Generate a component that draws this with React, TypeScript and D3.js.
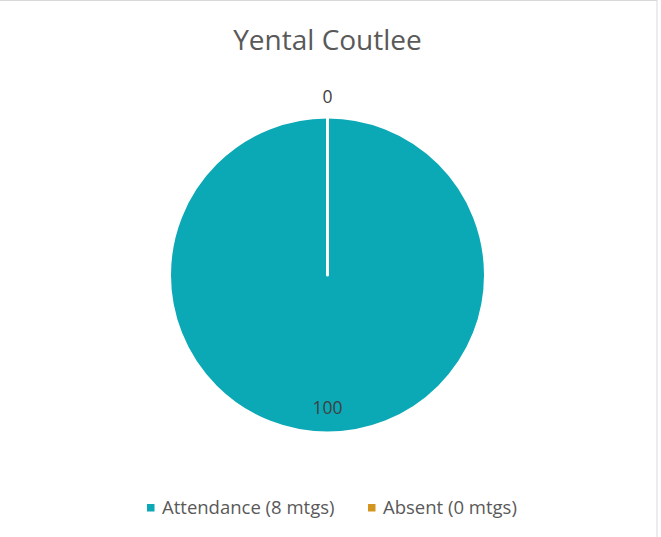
import React from "react";
import * as d3 from "d3";

const title = "Yental Coutlee";
const categories = ["Attendance (8 mtgs)", "Absent (0 mtgs)"];
const values = [100, 0];
const colors = ["#0BA8B6", "#D39520"];

export default function App() {
  const W = 661, H = 537;
  const cx = 327.5, cy = 275, r = 158;
  const pie = d3.pie<number>().sort(null).value((d) => d)(values);
  const arc = d3.arc<d3.PieArcDatum<number>>().innerRadius(0).outerRadius(r);
  const font = "'Open Sans', 'Liberation Sans', sans-serif";
  const labelR = [r * 0.84, r * 1.13];
  const legendX = [147, 368];
  return (
    <svg width={W} height={H} style={{ position: "absolute", left: 0, top: 0, background: "#fff" }}>
      <rect x={-2} y={0.5} width={659} height={H + 5} fill="#fff" stroke="#d9d9d9" strokeWidth={1} />
      <text x={cx} y={50} textAnchor="middle" fontFamily={font} fontSize={28} fill="#595959">{title}</text>
      <g transform={`translate(${cx},${cy})`}>
        {pie.map((p, i) => (
          <path key={i} d={arc(p) || ""} fill={colors[i]} stroke="#fff" strokeWidth={3} strokeLinejoin="round" />
        ))}
        {pie.map((p, i) => {
          const a = (p.startAngle + p.endAngle) / 2;
          const x = Math.sin(a) * labelR[i];
          const y = -Math.cos(a) * labelR[i];
          return (
            <text key={i} x={x} y={y} dy="0.35em" textAnchor="middle" fontFamily={font} fontSize={17.5} fill="#404040">{values[i]}</text>
          );
        })}
      </g>
      {categories.map((c, i) => (
        <g key={i}>
          <rect x={legendX[i]} y={504} width={7.5} height={7.5} fill={colors[i]} />
          <text x={legendX[i] + 15} y={514} fontFamily={font} fontSize={18.5} fill="#595959">{c}</text>
        </g>
      ))}
    </svg>
  );
}
